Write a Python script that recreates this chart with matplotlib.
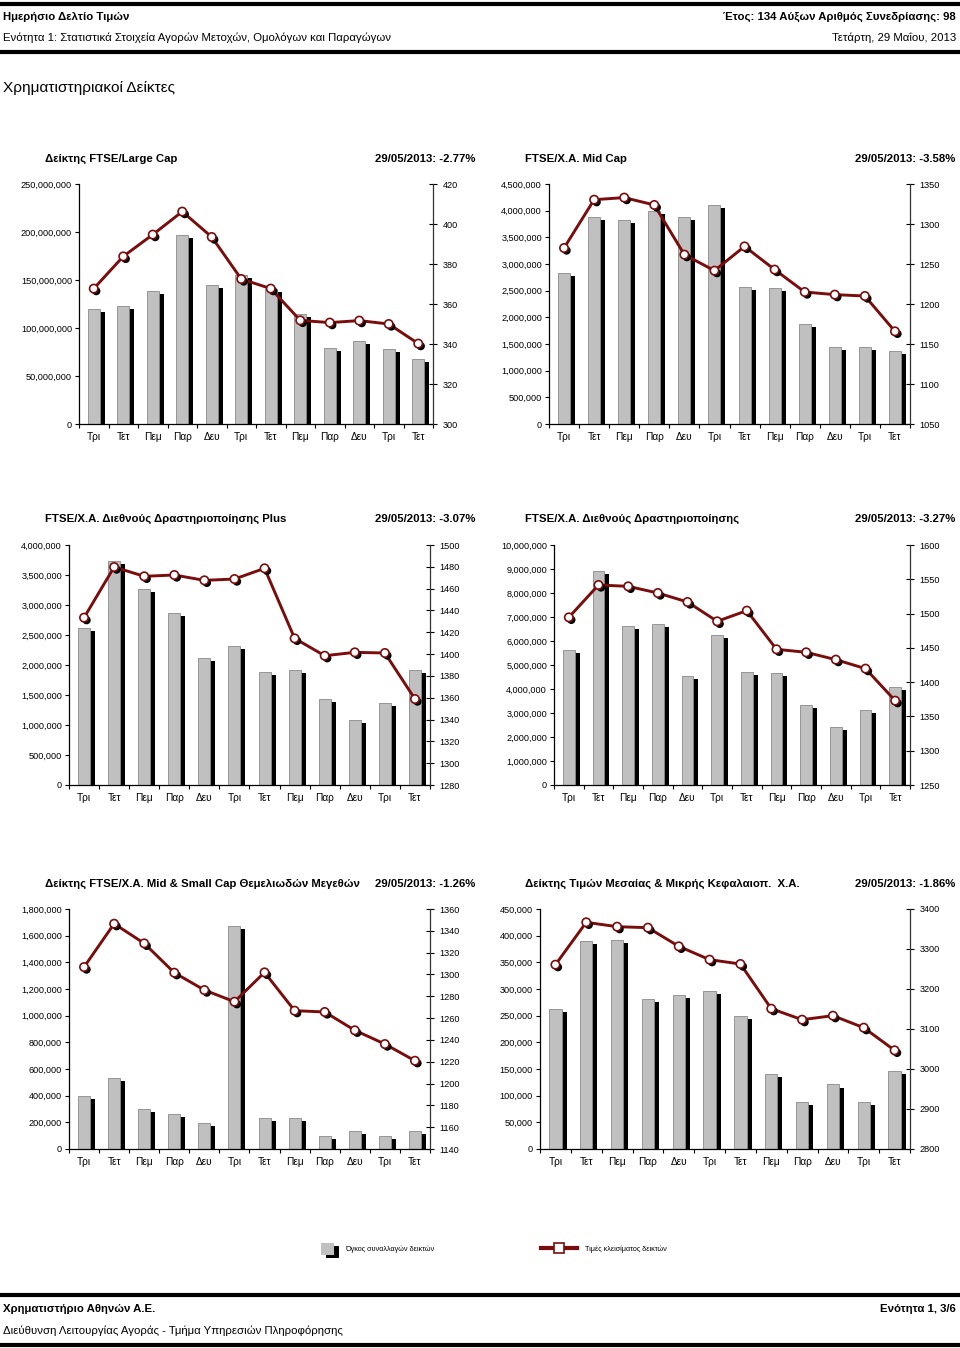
import numpy as np
import matplotlib.pyplot as plt
import matplotlib.patheffects as pe
from matplotlib.lines import Line2D
from matplotlib.patches import Patch
from matplotlib.ticker import FuncFormatter, MultipleLocator

plt.rcParams['font.family'] = ['Liberation Sans', 'DejaVu Sans']

days = ['Τρι', 'Τετ', 'Πεμ', 'Παρ', 'Δευ', 'Τρι', 'Τετ', 'Πεμ', 'Παρ', 'Δευ', 'Τρι', 'Τετ']

# volume (left axis) and closing value (right axis) per index
large_vol = [120e6, 123e6, 139e6, 196.5e6, 144.5e6, 155e6, 141e6, 115e6, 79e6, 86e6, 78e6, 68e6]
large_close = [367.7, 383.8, 394.7, 406.2, 393.5, 372.5, 367.7, 351.8, 350.7, 351.7, 350.0, 340.2]

mid_vol = [2.84e6, 3.89e6, 3.825e6, 3.99e6, 3.89e6, 4.11e6, 2.575e6, 2.55e6, 1.88e6, 1.44e6, 1.44e6, 1.375e6]
mid_close = [1270, 1330.4, 1333, 1323.8, 1261.7, 1241.7, 1272, 1243, 1215, 1211.7, 1210, 1165.8]

plus_vol = [2.61e6, 3.74e6, 3.27e6, 2.87e6, 2.12e6, 2.32e6, 1.88e6, 1.91e6, 1.44e6, 1.09e6, 1.36e6, 1.91e6]
plus_close = [1433.4, 1479.8, 1471.3, 1472.5, 1467.6, 1468.8, 1478.6, 1414.4, 1398.5, 1401.6, 1401, 1358.8]

intl_vol = [5.61e6, 8.93e6, 6.64e6, 6.69e6, 4.56e6, 6.26e6, 4.71e6, 4.65e6, 3.32e6, 2.42e6, 3.11e6, 4.07e6]
intl_close = [1494.5, 1541.7, 1539.7, 1530, 1516.9, 1488.7, 1504.3, 1447.9, 1443.5, 1432.8, 1419.7, 1373]

msf_vol = [400e3, 532e3, 300e3, 262e3, 195e3, 1675e3, 232e3, 232e3, 95e3, 137e3, 95e3, 137e3]
msf_close = [1306.8, 1346.5, 1328.5, 1301.6, 1285.7, 1275, 1301.9, 1266.8, 1265.6, 1248.8, 1236.2, 1220.9]

msc_vol = [262.5e3, 390e3, 392e3, 281e3, 289e3, 296e3, 250e3, 140e3, 89e3, 121e3, 89e3, 147e3]
msc_close = [3260.8, 3366.7, 3355.8, 3353.3, 3306.7, 3273.3, 3262.5, 3150.8, 3123.3, 3133.3, 3103.3, 3046.7]

titles = ['Δείκτης FTSE/Large Cap', 'FTSE/Χ.Α. Mid Cap',
          'FTSE/Χ.Α. Διεθνούς Δραστηριοποίησης Plus', 'FTSE/Χ.Α. Διεθνούς Δραστηριοποίησης',
          'Δείκτης FTSE/Χ.Α. Mid & Small Cap Θεμελιωδών Μεγεθών',
          'Δείκτης Τιμών Μεσαίας & Μικρής Κεφαλαιοπ.  Χ.Α.']
changes = ['-2.77%', '-3.58%', '-3.07%', '-3.27%', '-1.26%', '-1.86%']

W, H = 960, 1348
fig = plt.figure(figsize=(W / 100, H / 100), dpi=100)
fig.patch.set_facecolor('white')

BAR = '#c0c0c0'
RED = '#7b0c0c'
TXT = 8.2
bar_fx = [pe.SimplePatchShadow(offset=(3.6, -2.2), shadow_rgbFace='k', alpha=1), pe.Normal()]
mk_fx = [pe.SimplePatchShadow(offset=(1.8, -1.8), shadow_rgbFace='k', alpha=1), pe.Normal()]


def fx(px):
    return px / W


def fy(py):
    return 1 - py / H


def panel(box, title, change, vol, close, vmax, vstep, clo, chi, cstep, tx, ty):
    x0, y0, x1, y1 = box
    ax = fig.add_axes([fx(x0), fy(y1), fx(x1 - x0), (y1 - y0) / H])
    x = np.arange(len(days))
    ax.bar(x, vol, width=0.4, color=BAR, edgecolor='#8a8a8a', linewidth=0.6,
           path_effects=bar_fx, zorder=2)
    ax.set_xlim(-0.5, len(days) - 0.5)
    ax.set_ylim(0, vmax)
    ax.yaxis.set_major_locator(MultipleLocator(vstep))
    ax.yaxis.set_major_formatter(FuncFormatter(lambda v, p: f'{v:,.0f}'))
    ax.set_xticks(x)
    ax.set_xticklabels(days)
    ax.set_xticks(np.arange(-0.5, len(days)), minor=True)
    ax.tick_params(axis='x', which='major', length=0, labelsize=7.3, pad=6)
    ax.tick_params(axis='x', which='minor', length=3, width=0.8, direction='out')
    ax.tick_params(axis='y', length=3, width=0.8, direction='out', labelsize=6.6, pad=2)
    for s in ['top', 'right']:
        ax.spines[s].set_visible(False)
    ax.spines['left'].set_linewidth(0.9)
    ax.spines['bottom'].set_linewidth(0.9)

    ax2 = ax.twinx()
    ax2.plot(x, close, color=RED, lw=2.1, zorder=3)
    ax2.plot(x, close, ls='none', marker='o', ms=6, mfc='white', mec=RED, mew=1.2,
             path_effects=mk_fx, zorder=4)
    ax2.set_ylim(clo, chi)
    ax2.yaxis.set_major_locator(MultipleLocator(cstep))
    ax2.tick_params(axis='y', length=6, width=0.8, direction='inout', labelsize=6.6, pad=4)
    for s in ['top', 'left', 'bottom']:
        ax2.spines[s].set_visible(False)
    ax2.spines['right'].set_linewidth(0.9)
    ax2.spines['right'].set_color('#333333')

    fig.text(fx(tx), fy(ty), title, fontsize=TXT, fontweight='bold', va='center', ha='left')
    fig.text(fx(tx + 430), fy(ty), '29/05/2013: ' + change, fontsize=TXT,
             fontweight='bold', va='center', ha='right')


panel((79, 184, 433, 424), titles[0], changes[0], large_vol, large_close,
      250e6, 50e6, 300, 420, 20, 45, 159)
panel((549, 184, 910, 424), titles[1], changes[1], mid_vol, mid_close,
      4.5e6, 0.5e6, 1050, 1350, 50, 525, 159)
panel((69, 545, 430, 785), titles[2], changes[2], plus_vol, plus_close,
      4e6, 0.5e6, 1280, 1500, 20, 45, 519)
panel((554, 545, 910, 785), titles[3], changes[3], intl_vol, intl_close,
      10e6, 1e6, 1250, 1600, 50, 525, 519)
panel((69, 909, 430, 1149), titles[4], changes[4], msf_vol, msf_close,
      1.8e6, 0.2e6, 1140, 1360, 20, 45, 884)
panel((540, 909, 910, 1149), titles[5], changes[5], msc_vol, msc_close,
      450e3, 50e3, 2800, 3400, 100, 525, 884)

# header / footer rules
for py in [3.5, 52, 1294.5, 1345]:
    fig.add_artist(Line2D([0, 1], [fy(py), fy(py)], transform=fig.transFigure,
                          color='black', lw=3))

fig.text(fx(3), fy(17), 'Ημερήσιο Δελτίο Τιμών', fontsize=TXT, fontweight='bold', va='center')
fig.text(fx(3), fy(38), 'Ενότητα 1: Στατιστικά Στοιχεία Αγορών Μετοχών, Ομολόγων και Παραγώγων',
         fontsize=TXT, va='center')
fig.text(fx(956), fy(17), 'Έτος: 134 Αύξων Αριθμός Συνεδρίασης: 98', fontsize=TXT,
         fontweight='bold', va='center', ha='right')
fig.text(fx(956), fy(38), 'Τετάρτη, 29 Μαΐου, 2013', fontsize=TXT, va='center', ha='right')
fig.text(fx(3), fy(88), 'Χρηματιστηριακοί Δείκτες', fontsize=11.1, va='center')

fig.text(fx(3), fy(1309), 'Χρηματιστήριο Αθηνών Α.Ε.', fontsize=TXT, fontweight='bold', va='center')
fig.text(fx(956), fy(1309), 'Ενότητα 1, 3/6', fontsize=TXT, fontweight='bold', va='center', ha='right')
fig.text(fx(3), fy(1331), 'Διεύθυνση Λειτουργίας Αγοράς - Τμήμα Υπηρεσιών Πληροφόρησης',
         fontsize=TXT, va='center')

# legend: two entries with different handle lengths
vol_h = Patch(facecolor=BAR, edgecolor='none', path_effects=bar_fx)
close_h = Line2D([], [], color=RED, lw=3, marker='s', ms=7, mfc='white', mec=RED, mew=1.2)
fig.legend([vol_h], ['Όγκος συναλλαγών δεικτών'], loc='center left',
           bbox_to_anchor=(fx(321), fy(1249)), frameon=False, fontsize=5.2,
           handlelength=1.8, handleheight=2.2, handletextpad=1.6, borderpad=0, borderaxespad=0)
fig.legend([close_h], ['Τιμές κλεισίματος δεικτών'], loc='center left',
           bbox_to_anchor=(fx(541), fy(1249)), frameon=False, fontsize=5.2,
           handlelength=5.0, handletextpad=1.1, borderpad=0, borderaxespad=0)

fig.savefig('out.png', dpi=100, facecolor='white')
